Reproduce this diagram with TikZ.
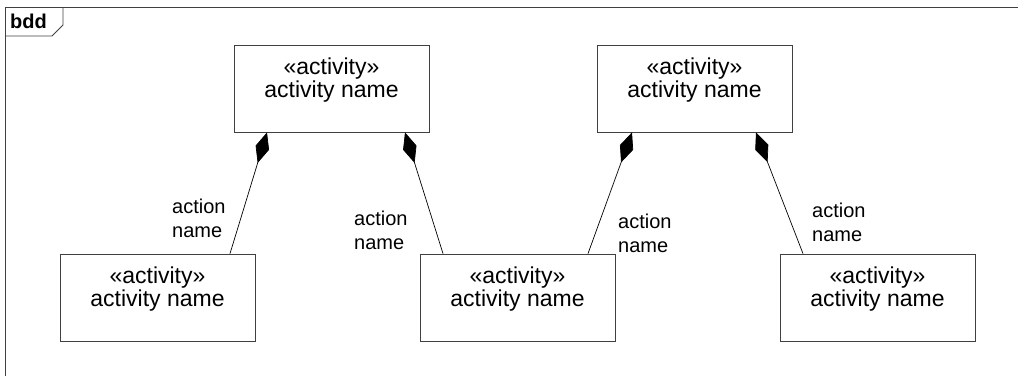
\documentclass[tikz,border=0pt]{standalone}
\usepackage{fontspec}
\setmainfont{Liberation Sans}
\usetikzlibrary{positioning,arrows.meta}

\begin{document}
\begin{tikzpicture}[x=1pt,y=-1pt,
  block/.style={draw=black!75, line width=0.8pt, minimum width=195pt, minimum height=87pt, inner sep=0pt},
  blocktext/.style={align=center, inner sep=0pt, font=\fontsize{23}{23}\selectfont},
  role/.style={align=left, inner sep=0pt, anchor=north west, font=\fontsize{20}{24}\selectfont},
  compose/.style={line width=0.7pt, -{Diamond[length=32pt,width=14pt]}}]

\useasboundingbox (0,0) rectangle (1018,376);

\draw[black!75, line width=0.8pt] (1018,7) -- (5,7) -- (5,376);
\draw[black!75, line width=0.8pt] (5,36) -- (52,36) -- (63,25) -- (63,7);
\node[anchor=base west, inner sep=0pt, font=\fontsize{20}{20}\selectfont\bfseries] (bdd) at (10,28) {bdd};

\node[block] (tl) at (331.5,88.5) {};
\node[block] (tr) at (694.5,88.5) {};
\node[block] (bl) at (157.5,297.5) {};
\node[block] (bm) at (517.5,297.5) {};
\node[block] (br) at (877.5,297.5) {};

\foreach \b in {tl,tr,bl,bm,br}
  \node[blocktext, below=13.5pt of \b.north] (\b-t) {«activity»\\activity name};

\draw[compose] ([xshift=72.5pt]bl.north)  -- ([xshift=-64.5pt]tl.south);
\draw[compose] ([xshift=-74.5pt]bm.north) -- ([xshift=73.5pt]tl.south);
\draw[compose] ([xshift=70.5pt]bm.north)  -- ([xshift=-62.5pt]tr.south);
\draw[compose] ([xshift=-74.5pt]br.north) -- ([xshift=61.5pt]tr.south);

\node[role] (r1) at (172,198.5) {action\\name};
\node[role] (r2) at (354,210.5) {action\\name};
\node[role] (r3) at (618,213.5) {action\\name};
\node[role] (r4) at (812,202.5) {action\\name};

\end{tikzpicture}
\end{document}
